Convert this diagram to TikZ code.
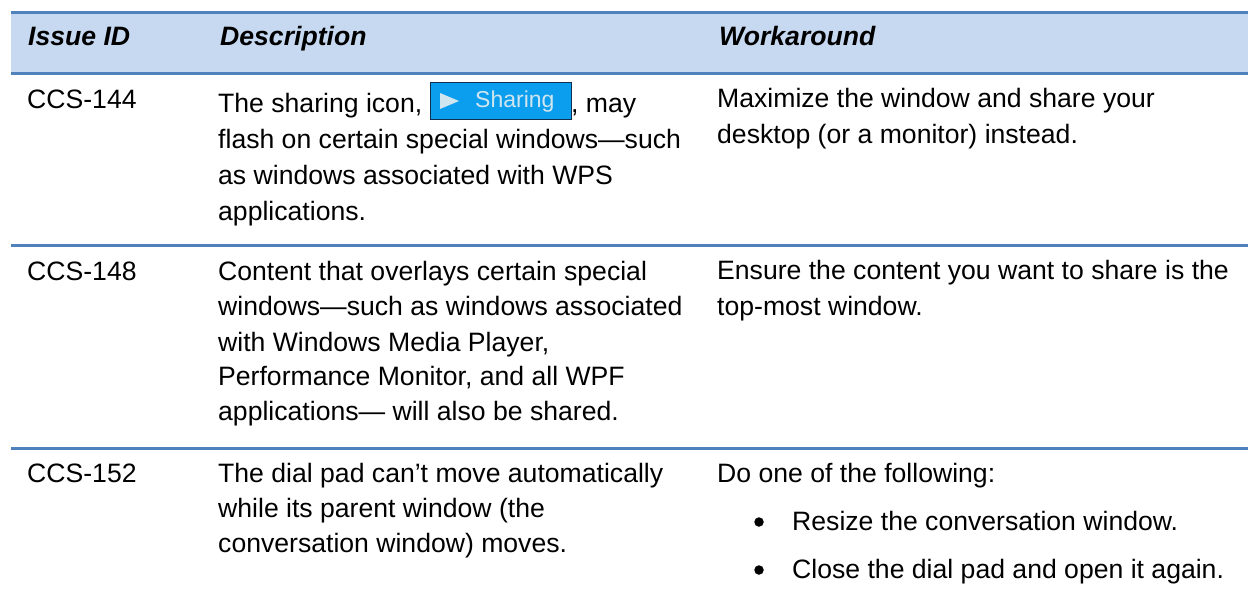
\documentclass[tikz,border=0pt]{standalone}
\usepackage{fontspec}
\setmainfont{Liberation Sans}
\definecolor{rulec}{HTML}{4F81BD}
\definecolor{headc}{HTML}{C6D9F1}
\definecolor{iconc}{HTML}{0C9EEE}
\definecolor{iconl}{HTML}{CFE6F0}
\definecolor{iconb}{HTML}{10304F}
\tikzset{
  x=1pt,y=-1pt,
  txt/.style={anchor=base west,inner sep=0pt,font=\fontsize{26.6}{30}\selectfont,text=black},
  hd/.style={txt,font=\fontsize{26.6}{30}\selectfont\bfseries\itshape},
  rowline/.style={draw=rulec,line width=3pt},
  bul/.style={circle,fill=black,inner sep=0pt,minimum size=9.5pt},
}
\begin{document}
\begin{tikzpicture}
\useasboundingbox (0,0) rectangle (1248,597);
\fill[headc] (11,13) rectangle (1248,73);
\coordinate (a1) at (11,12.5); \coordinate (a2) at (1248,12.5);
\coordinate (b1) at (11,73.5); \coordinate (b2) at (1248,73.5);
\coordinate (c1) at (11,245); \coordinate (c2) at (1248,245);
\coordinate (d1) at (11,448); \coordinate (d2) at (1248,448);
\draw[rowline] (a1) -- (a2);
\draw[rowline] (b1) -- (b2);
\draw[rowline] (c1) -- (c2);
\draw[rowline] (d1) -- (d2);
\node[hd] (h1) at (28,45.5) {Issue ID};
\node[hd] (h2) at (220,45.5) {Description};
\node[hd] (h3) at (719,45.5) {Workaround};
\node[txt] (r1) at (27,108) {CCS-144};
\node[txt] (t1a) at (218,112) {The sharing icon,};
\node[draw=iconb,fill=iconc,line width=1pt,inner sep=0pt,minimum width=141pt,minimum height=37pt,anchor=north west] (icon) at (430,82) {};
\fill[iconl] (440,93) -- (459,101) -- (440,109) -- cycle;
\node[anchor=base west,inner sep=0pt,text=iconl,font=\fontsize{23}{25}\selectfont] (ict) at (475,107.5) {Sharing};
\node[txt] (t1b) at (571,112) {, may};
\node[txt] (t1c) at (218,148) {flash on certain special windows—such};
\node[txt] (t1d) at (218,184) {as windows associated with WPS};
\node[txt] (t1e) at (218,220) {applications.};
\node[txt] (w1a) at (717,107.5) {Maximize the window and share your};
\node[txt] (w1b) at (717,143) {desktop (or a monitor) instead.};
\node[txt] (r2) at (27,280) {CCS-148};
\node[txt] (t2a) at (218,280) {Content that overlays certain special};
\node[txt] (t2b) at (218,315) {windows—such as windows associated};
\node[txt] (t2c) at (218,351) {with Windows Media Player,};
\node[txt] (t2d) at (218,385.5) {Performance Monitor, and all WPF};
\node[txt] (t2e) at (218,420) {applications— will also be shared.};
\node[txt] (w2a) at (717,279) {Ensure the content you want to share is the};
\node[txt] (w2b) at (717,315) {top-most window.};
\node[txt] (r3) at (27,482) {CCS-152};
\node[txt] (t3a) at (218,482) {The dial pad can’t move automatically};
\node[txt] (t3b) at (218,517) {while its parent window (the};
\node[txt] (t3c) at (218,552) {conversation window) moves.};
\node[txt] (w3a) at (717,482) {Do one of the following:};
\node[bul] (b3a) at (759,522) {};
\node[txt] (w3b) at (792,530) {Resize the conversation window.};
\node[bul] (b3b) at (759,570) {};
\node[txt] (w3c) at (792,578) {Close the dial pad and open it again.};
\end{tikzpicture}
\end{document}
